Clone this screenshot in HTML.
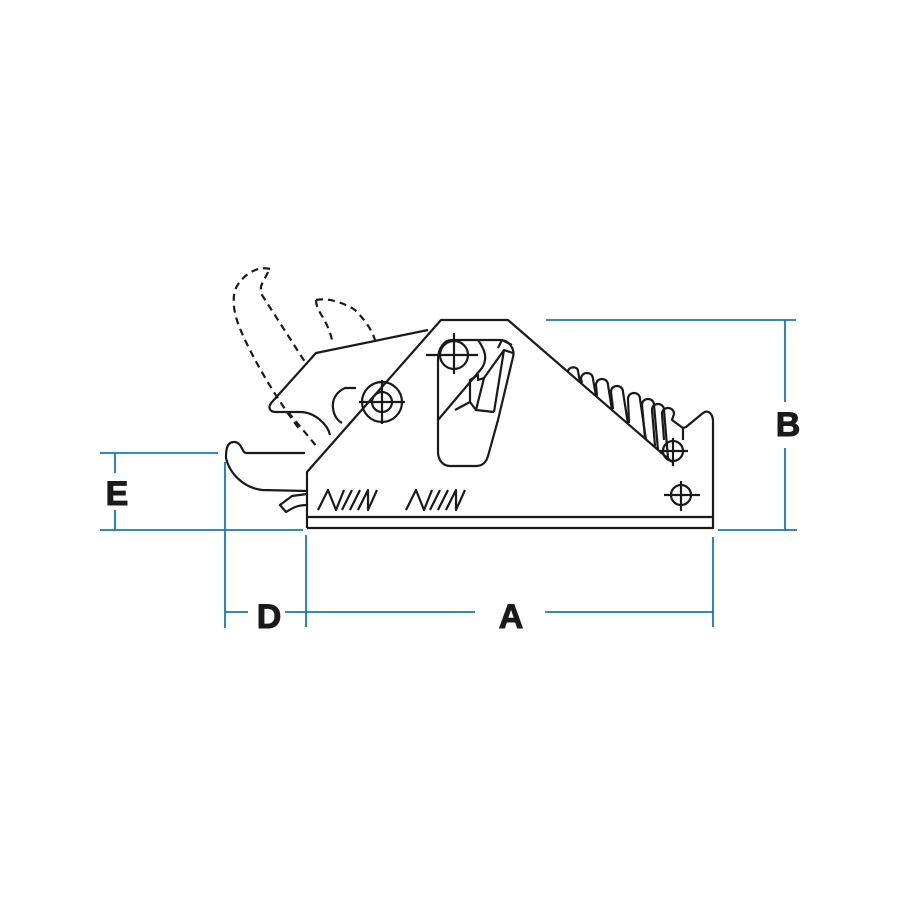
<!DOCTYPE html>
<html><head><style>body{margin:0;background:#fff}svg{display:block}</style></head><body>
<svg width="900" height="900" viewBox="0 0 900 900" xmlns="http://www.w3.org/2000/svg">
<rect width="900" height="900" fill="#fff"/>
<g stroke="#1279bf" stroke-width="1.8" fill="none">
<line x1="100" y1="453" x2="218" y2="453"/>
<line x1="100" y1="530" x2="303" y2="530"/>
<line x1="115" y1="453" x2="115" y2="473"/>
<line x1="115" y1="510" x2="115" y2="530"/>
<line x1="225" y1="462" x2="225" y2="628"/>
<line x1="306" y1="535" x2="306" y2="627"/>
<line x1="225" y1="612" x2="248" y2="612"/>
<line x1="285" y1="612" x2="475" y2="612"/>
<line x1="545" y1="612" x2="713" y2="612"/>
<line x1="713" y1="537" x2="713" y2="627"/>
<line x1="546" y1="320" x2="796" y2="320"/>
<line x1="718" y1="530" x2="797" y2="530"/>
<line x1="785" y1="320" x2="785" y2="402"/>
<line x1="785" y1="448" x2="785" y2="530"/>
</g>
<g font-family="Liberation Sans, sans-serif" font-weight="bold" font-size="34" fill="#1a1a1a" text-anchor="middle" stroke="#1a1a1a" stroke-width="1">
<text x="788" y="436">B</text>
<text x="117" y="505">E</text>
<text x="269" y="628">D</text>
<text x="511" y="628">A</text>
</g>
<g stroke="#1a1a1a" stroke-width="2.2" fill="none" stroke-dasharray="7,5">
<path d="M270,269 C255,265 240,278 235,290 C230,310 240,330 250,350 C265,380 285,410 300,430"/>
<path d="M268,272 C265,280 258,285 262,295 L305,362"/>
<path d="M316,300 C330,297 348,305 355,310 C365,320 372,330 375,340"/>
<path d="M316,300 C316,312 327,318 332,340"/>
<path d="M288,412 L318,448"/>
</g>
<g stroke="#1a1a1a" stroke-width="2.2" fill="none" stroke-linejoin="round">
<path d="M307,528 L713,528 L713,420 C712,412 707,410 703,413 L686,427 L683,428 L683,440"/>
<line x1="307" y1="517" x2="713" y2="517"/>
<path d="M307,528 L307,472 L441,320 L508,320 L672,462"/>
<path d="M428,330 L316,353 L272,402 C267,408 270,412 276,412 L300,412 C315,412 328,425 330,435"/>
<path d="M356,388 L345,388 C336,392 332,400 333,408 C334,418 340,422 342,423"/>
<path d="M305,453 L246,453 C242,453 242,442 234,442 C226,442 226,452 226,458 C230,475 245,488 262,490 L307,491"/>
<path d="M307,505 C295,505 290,510 286,512 L280,505 L292,496 L307,494"/>
<path d="M452,340 L500,340 C510,340 515,350 513,357 L498,420 L488,456 C486,463 482,466 476,466 L450,466 C443,466 438,460 438,452 L438,360 C438,348 444,340 452,340 Z"/>
<path d="M478,340 C485,350 488,358 482,368 L438,420"/>
<path d="M455,410 L470,402 L470,380 L478,375 L478,380 L484,378 L476,410 L494,412"/>
<path d="M470,402 L476,410 M484,378 L504,350 L494,412 M504,350 L513,353 M498,348 L502,340 L512,345"/>
<circle cx="454" cy="355" r="14"/>
<line x1="426" y1="355" x2="478" y2="355"/><line x1="454" y1="333" x2="454" y2="374"/>
<circle cx="382" cy="402" r="20"/><circle cx="382" cy="402" r="10"/>
<line x1="359" y1="402" x2="405" y2="402"/><line x1="382" y1="380" x2="382" y2="424"/>
<circle cx="673" cy="451" r="10"/>
<line x1="660" y1="451" x2="688" y2="451"/><line x1="673" y1="438" x2="673" y2="466"/>
<circle cx="681" cy="495" r="10"/>
<line x1="664" y1="495" x2="700" y2="495"/><line x1="681" y1="481" x2="681" y2="511"/>
<!-- spring -->
<path d="M568,372 C568,366 578,366 578,371 L580,382"/>
<path d="M582,383 L581,379 C581,371 593,371 593,379 L596,396"/>
<path d="M597,396 L596,385 C596,377 608,377 608,385 L612,410"/>
<path d="M613,409 L611,392 C611,384 623,384 623,392 L628,424"/>
<path d="M629,423 L628,399 C628,391 640,391 640,399 L646,440"/>
<path d="M645,438 L642,405 C642,397 654,397 654,405 L658,450"/>
<path d="M655,446 L652,410 C652,402 664,402 664,410 L668,458"/>
<path d="M664,440 L662,414 C662,406 674,406 674,414 L672,420 L683,428"/>
<path d="M318,510 L328,490 L336,510 L344,490 M342,510 L352,490 M350,510 L360,490 M358,510 L368,490 L368,510 L377,490"/>
<path d="M406,510 L416,490 L424,510 L432,490 M430,510 L440,490 M438,510 L448,490 M446,510 L456,490 L456,510 L465,490"/>
</g>
</svg>
</body></html>
